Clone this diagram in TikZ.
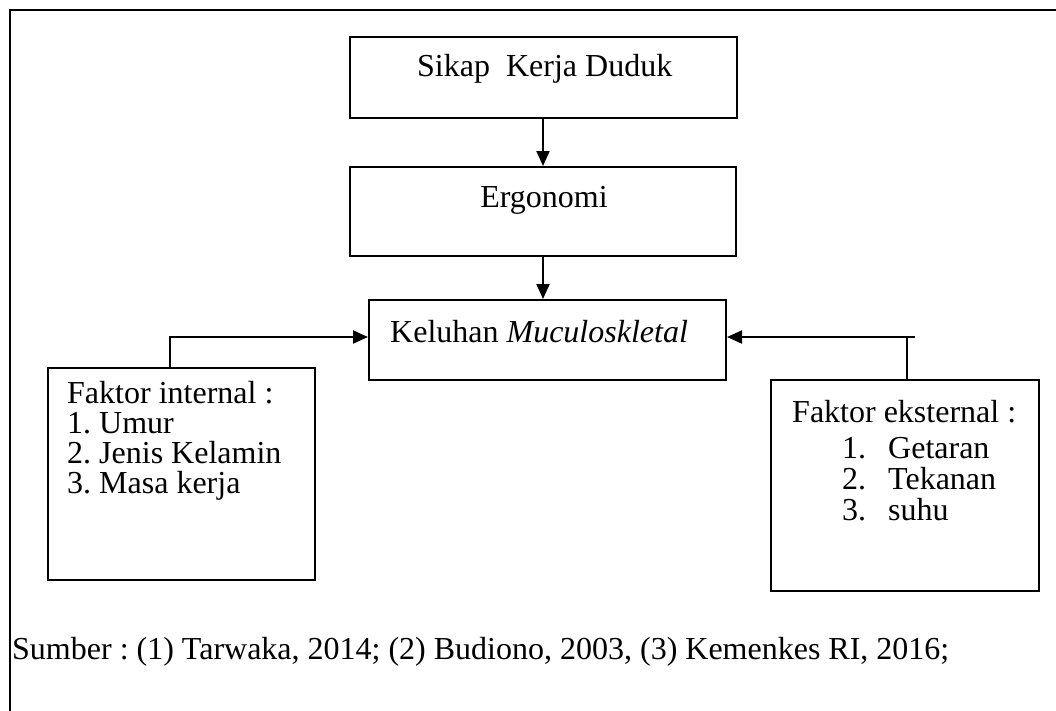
\documentclass[tikz,border=0pt]{standalone}
\usepackage{fontspec}
\setmainfont{Liberation Serif}
\usetikzlibrary{positioning,calc,arrows.meta}
\frenchspacing

\begin{document}
\begin{tikzpicture}[x=1pt,y=-1pt, line cap=butt,line join=miter,
		>={Triangle[length=15pt,width=13pt]},
		kotak/.style={draw=black, line width=2pt, inner sep=0pt, fill=none},
		teks/.style={inner sep=0pt, anchor=base west, font=\fontsize{32}{37}\selectfont},
		panah/.style={->, black, line width=2pt},
		garis/.style={black, line width=2pt}]
	
	% ---- bounding box (ukuran gambar)
	\useasboundingbox (0,0) rectangle (1056,710);
	
	% ---- bingkai luar (kanan dan bawah terpotong)
	\draw[garis] (1060,10) -- (10,10) -- (10,714);
	
	% ---- kotak utama
	\node[kotak, minimum width=387pt, minimum height=81pt] (sikap) at (543,77.5) {};
	\node[kotak, minimum width=386pt, minimum height=89pt] (ergo) at (543,211.5) {};
	\node[kotak, minimum width=357pt, minimum height=80pt] (keluhan) at (547.5,340) {};
	
	% ---- kotak faktor
	\node[kotak, minimum width=267pt, minimum height=212pt] (internal) at (181.5,474) {};
	\node[kotak, minimum width=268pt, minimum height=211pt] (eksternal) at (905,485.5) {};
	
	% ---- teks dalam kotak
	\node[teks] (tsikap) at (417,76) {Sikap\ \ Kerja Duduk};
	\node[teks, anchor=base] (tergo) at (544,207) {Ergonomi};
	\node[teks] (tkeluhan) at (390,342) {Keluhan \textit{Muculoskletal}};
	
	% faktor internal
	\node[teks] (tint) at (67,403) {Faktor internal :};
	\foreach \i/\isi in {1/Umur,2/Jenis Kelamin,3/Masa kerja}{
		\pgfmathsetmacro{\yBase}{403+\i*30}
		\node[teks] (int\i) at (67,\yBase) {\i. \isi};
	}
	
	% faktor eksternal
	\node[teks] (teks0) at (792,422) {Faktor eksternal :};
	\foreach \i/\isi in {1/Getaran,2/Tekanan,3/suhu}{
		\pgfmathsetmacro{\yBase}{427+\i*31}
		\node[teks] (eksno\i) at (842,\yBase) {\i.};
		\node[teks] (eks\i) at (888,\yBase) {\isi};
	}
	
	% sumber
	\node[teks] (sumber) at (12,659) {Sumber : (1) Tarwaka, 2014; (2) Budiono, 2003, (3) Kemenkes RI, 2016;};
	
	% ---- panah
	\draw[panah] (sikap.south) -- (ergo.north);
	\draw[panah] (ergo.south) -- (ergo.south |- keluhan.north);
	
	% dari faktor internal
	\coordinate (siku) at ($(internal.north west)+(123,0)$);
	\draw[panah] (siku) |- ([yshift=3pt]keluhan.west);
	
	% dari faktor eksternal
	\coordinate (ujung) at (915,337);
	\coordinate (sambung) at (907,337);
	\draw[panah] (ujung) -- ([yshift=3pt]keluhan.east);
	\draw[garis] (sambung) -- (sambung |- eksternal.north);
	
\end{tikzpicture}
\end{document}
